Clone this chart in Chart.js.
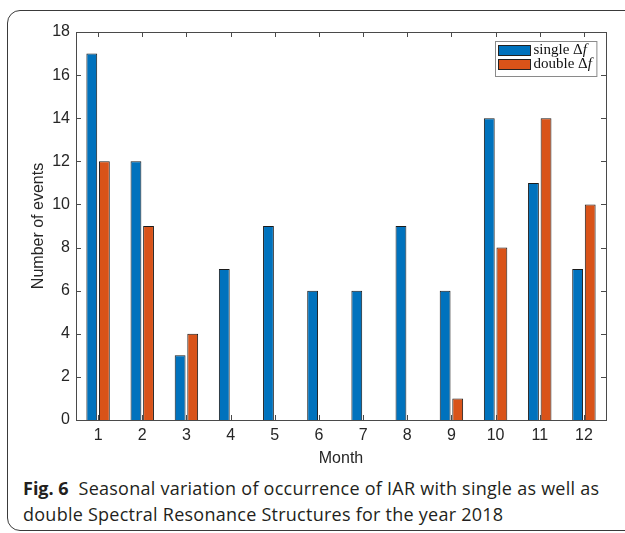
<!DOCTYPE html>
<html>
<head>
<meta charset="utf-8">
<script src="https://cdn.jsdelivr.net/npm/chart.js@4"></script>
<style>
  html, body { margin: 0; padding: 0; background: #fff; }
  body { width: 625px; height: 533px; position: relative; overflow: hidden; }
  .frame {
    position: absolute; left: 7px; top: 10px; width: 700px; height: 521px;
    box-sizing: border-box; border: 1px solid #3a3a3a; border-radius: 13px;
  }
  .plot { position: absolute; left: 0; top: 0; width: 625px; height: 470px; }
  .caption {
    position: absolute; left: 23px; top: 475px; width: 600px;
    font-family: "Open Sans", "Noto Sans", sans-serif; font-size: 18px;
    letter-spacing: 0.25px; line-height: 26px; color: #231f20; white-space: nowrap;
  }
  .caption b { font-weight: 700; letter-spacing: 0; }
</style>
</head>
<body>
<div class="frame"></div>
<div class="plot"><canvas id="chart"></canvas></div>
<div class="caption"><b>Fig. 6</b>&nbsp; Seasonal variation of occurrence of IAR with single as well as<br>double Spectral Resonance Structures for the year 2018</div>

<script>
// --- данные (читались с картинки) ---
const months = ['1', '2', '3', '4', '5', '6', '7', '8', '9', '10', '11', '12'];
const singleEvents = [17, 12, 3, 7, 9, 6, 6, 9, 6, 14, 11, 7];
const doubleEvents = [12, 9, 4, 0, 0, 0, 0, 0, 1, 8, 14, 10];
const seriesNames = ['single', 'double'];
const yTicks = [0, 2, 4, 6, 8, 10, 12, 14, 16, 18];

const BLUE = '#0072BD';
const ORANGE = '#D95319';
const AXIS = '#4a4a4a';

// рамка осей + тики внутрь, как в MATLAB
const boxPlugin = {
  id: 'matlabBox',
  afterDraw(chart) {
    const { ctx, chartArea: a, scales } = chart;
    ctx.save();
    ctx.strokeStyle = AXIS;
    ctx.lineWidth = 1;
    ctx.beginPath();
    const len = 5;
    scales.x.ticks.forEach((t, i) => {
      const x = Math.round(scales.x.getPixelForTick(i)) + 0.5;
      ctx.moveTo(x, a.bottom); ctx.lineTo(x, a.bottom - len);
      ctx.moveTo(x, a.top); ctx.lineTo(x, a.top + len);
    });
    scales.y.ticks.forEach((t, i) => {
      const y = Math.round(scales.y.getPixelForTick(i)) + 0.5;
      ctx.moveTo(a.left, y); ctx.lineTo(a.left + len, y);
      ctx.moveTo(a.right, y); ctx.lineTo(a.right - len, y);
    });
    ctx.stroke();
    ctx.strokeRect(Math.round(a.left) + 0.5, Math.round(a.top) + 0.5,
      Math.round(a.right - a.left), Math.round(a.bottom - a.top));
    ctx.restore();
  }
};

// легенда внутри графика (правый верхний угол), подпись с \Delta f
const legendPlugin = {
  id: 'innerLegend',
  afterDraw(chart) {
    const { ctx, chartArea: a } = chart;
    const serif = '"Liberation Serif", "DejaVu Serif", serif';
    const size = 15;
    const sw = 32, sh = 10, rowH = 14, padX = 3, padY = 3;
    ctx.save();
    const parts = chart.data.datasets.map(ds => {
      ctx.font = `${size}px ${serif}`;
      const w1 = ctx.measureText(ds.label + ' \u0394').width;
      ctx.font = `italic ${size}px ${serif}`;
      const w2 = ctx.measureText('f').width;
      return { ds, w1, w2 };
    });
    const textW = Math.max(...parts.map(p => p.w1 + p.w2));
    const boxW = padX + sw + 3 + textW + 5;
    const boxH = padY * 2 + rowH * parts.length + 1;
    const x0 = Math.round(a.right - 10 - boxW) + 0.5;
    const y0 = Math.round(a.top + 9) + 0.5;
    ctx.fillStyle = '#fff';
    ctx.fillRect(x0, y0, boxW, boxH);
    ctx.strokeStyle = '#8a8a8a';
    ctx.lineWidth = 1;
    ctx.strokeRect(x0, y0, boxW, boxH);
    parts.forEach((p, i) => {
      const ry = y0 + padY + 1 + i * rowH;
      ctx.fillStyle = p.ds.backgroundColor;
      ctx.fillRect(x0 + padX, ry, sw, sh);
      ctx.strokeStyle = '#222';
      ctx.strokeRect(x0 + padX, ry, sw, sh);
      ctx.fillStyle = '#111';
      ctx.textBaseline = 'middle';
      ctx.textAlign = 'left';
      const tx = x0 + padX + sw + 3;
      const ty = ry + sh / 2;
      ctx.font = `${size}px ${serif}`;
      ctx.fillText(p.ds.label + ' \u0394', tx, ty);
      ctx.font = `italic ${size}px ${serif}`;
      ctx.fillText('f', tx + p.w1, ty);
    });
    ctx.restore();
  }
};

const sans = '"Liberation Sans", Arial, sans-serif';

new Chart(document.getElementById('chart'), {
  type: 'bar',
  data: {
    labels: months,
    datasets: [
      {
        label: seriesNames[0], data: singleEvents,
        backgroundColor: BLUE, borderColor: '#1b1b1b', borderWidth: 1,
        categoryPercentage: 0.57, barPercentage: 0.86
      },
      {
        label: seriesNames[1], data: doubleEvents,
        backgroundColor: ORANGE, borderColor: '#1b1b1b', borderWidth: 1,
        categoryPercentage: 0.57, barPercentage: 0.86
      }
    ]
  },
  options: {
    responsive: true,
    maintainAspectRatio: false,
    animation: false,
    layout: { padding: { top: 32, right: 19, left: 0, bottom: 0 } },
    plugins: {
      legend: { display: false },
      tooltip: { enabled: false }
    },
    scales: {
      x: {
        grid: { display: false, drawTicks: false },
        border: { display: false },
        ticks: { color: '#262626', font: { family: sans, size: 16 }, padding: 6, maxRotation: 0 },
        title: { display: true, text: 'Month', color: '#262626', font: { family: sans, size: 16 }, padding: { bottom: 2 } },
        afterFit(s) { s.height = 50; }
      },
      y: {
        min: 0, max: 18,
        grid: { display: false, drawTicks: false },
        border: { display: false },
        afterBuildTicks(s) { s.ticks = yTicks.map(v => ({ value: v })); },
        ticks: { color: '#262626', font: { family: sans, size: 16 }, padding: 6 },
        title: { display: true, text: 'Number of events', color: '#262626', font: { family: sans, size: 16 }, padding: { top: 29 } },
        afterFit(s) { s.width = 76; }
      }
    }
  },
  plugins: [boxPlugin, legendPlugin]
});
</script>
</body>
</html>
